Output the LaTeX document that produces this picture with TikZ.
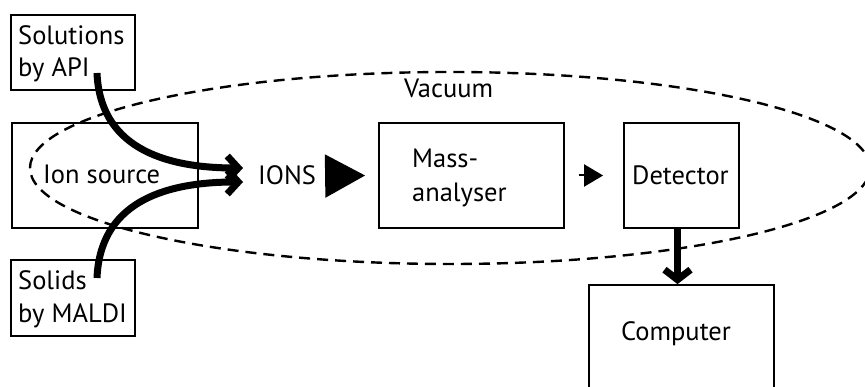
\documentclass[tikz,border=0pt]{standalone}
\usepackage{fontspec}
\setmainfont{PT Sans}
\usetikzlibrary{arrows.meta,shapes.geometric}
\begin{document}
\begin{tikzpicture}[x=1pt,y=-1pt,
  box/.style={draw, line width=1.8pt, inner sep=0pt},
  lbl/.style={inner sep=0pt, anchor=base west, font=\fontsize{26.5}{30}\selectfont},
  vacline/.style={draw, line width=2.4pt, dash pattern=on 11pt off 7pt},
  feed/.style={line width=7pt, -{Straight Barb[length=11pt,width=24pt]}},
  bigtri/.style={line width=2pt, -{Triangle[length=40pt,width=43pt]}},
  smalltri/.style={line width=2pt, -{Triangle[length=19pt,width=22pt]}},
  outarrow/.style={line width=7pt, -{Straight Barb[length=10pt,width=26pt]}}]
\useasboundingbox (0,0) rectangle (865,387);
% vacuum envelope
\node[ellipse, vacline, minimum width=840pt, minimum height=192pt, inner sep=0pt] (vac) at (450,168) {};
% boxes
\node[box, minimum width=124pt, minimum height=75pt] (sol) at (73,52.5) {};
\node[box, minimum width=124pt, minimum height=76pt] (mal) at (73,298) {};
\node[box, minimum width=186pt, minimum height=105pt] (ion) at (105,175.5) {};
\node[box, minimum width=185pt, minimum height=105pt] (mass) at (471.5,175.5) {};
\node[box, minimum width=115pt, minimum height=105pt] (det) at (681.5,175.5) {};
\node[box, minimum width=185pt, minimum height=120pt] (comp) at (681.5,345) {};
% labels
\node[lbl] (t1) at (18,45) {Solutions};
\node[lbl] (t2) at (18,77) {by API};
\node[lbl] (t3) at (18,290) {Solids};
\node[lbl] (t4) at (18,323) {by MALDI};
\node[lbl] (t5) at (43,184) {Ion source};
\node[lbl] (ions) at (258,185) {IONS};
\node[lbl] (t7) at (412,168) {Mass-};
\node[lbl] (t8) at (412,202) {analyser};
\node[lbl] (t9) at (404,98) {Vacuum};
\node[lbl] (t10) at (632,185) {Detector};
\node[lbl] (t11) at (621,341) {Computer};
% feed coordinates
\coordinate (apis) at (97,73);
\coordinate (mals) at (97,278);
\coordinate (inA) at (243,168);
\coordinate (inB) at (243,182);
% connectors
\draw[feed] (apis) .. controls (100,145) and (160,168) .. (inA);
\draw[feed] (mals) .. controls (100,205) and (160,182) .. (inB);
\draw[bigtri] ([xshift=12pt]ions.east |- 0,176) -- ([xshift=-13pt]mass.west);
\draw[smalltri] ([xshift=14pt]mass.east) -- ([xshift=-20pt]det.west);
\draw[outarrow] ([xshift=-4pt]det.south) -- ([xshift=-4pt]comp.north);
\end{tikzpicture}
\end{document}
